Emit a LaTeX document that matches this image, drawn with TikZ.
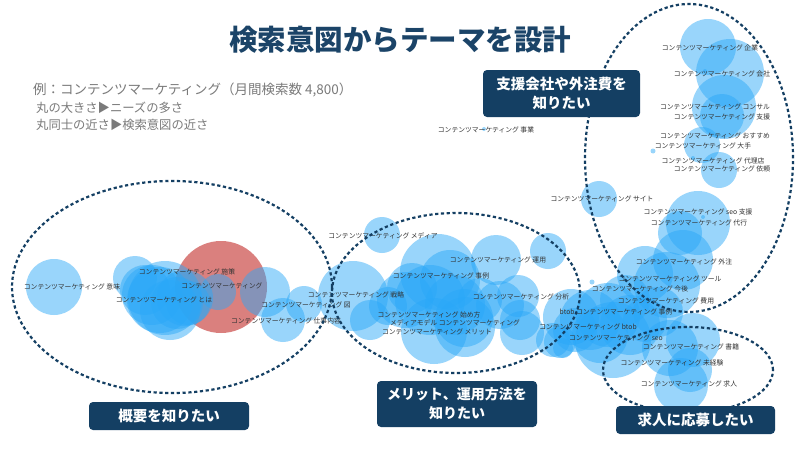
\documentclass[tikz,border=0pt]{standalone}
\usepackage{fontspec}
\newfontfamily\jp{Noto Sans CJK JP}
\definecolor{navy}{HTML}{143F63}
\definecolor{titleblue}{HTML}{1B4468}
\definecolor{bubblue}{HTML}{2AA8F8}
\definecolor{bubred}{HTML}{D46A68}
\definecolor{labgray}{HTML}{333333}
\definecolor{leggray}{HTML}{7A7A7A}
\tikzset{
  bub/.style={fill=bubblue, fill opacity=0.48},
  redbub/.style={fill=bubred, fill opacity=0.85},
  lab/.style={font=\jp\fontsize{6.8}{7}\selectfont, text=labgray, inner sep=0pt},
  grp/.style={draw=navy, line width=2.2pt, dash pattern=on 3.2pt off 2.6pt},
  catbox/.style={fill=navy, rounded corners=4pt, text=white, align=center, inner sep=0pt,
    font=\jp\bfseries\fontsize{14.5}{19}\selectfont},
  legend/.style={text=leggray, inner sep=0pt, anchor=west}
}
\begin{document}
\begin{tikzpicture}[x=1pt,y=-1pt]
\useasboundingbox[fill=white] (0,0) rectangle (800,450);

% title and legend
\node[font=\jp\bfseries\fontsize{28.5}{30}\selectfont, text=titleblue, inner sep=0pt] (title) at (400,40) {検索意図からテーマを設計};
\node[legend, font=\jp\fontsize{13.5}{15}\selectfont] (leg1) at (33,90) {例：コンテンツマーケティング（月間検索数 4,800）};
\node[legend, font=\jp\fontsize{12.3}{14}\selectfont] (leg2) at (36,108) {丸の大きさ▶ニーズの多さ};
\node[legend, font=\jp\fontsize{12.3}{14}\selectfont] (leg3) at (36,125) {丸同士の近さ▶検索意図の近さ};

% red main bubble
\fill[redbub] (221,287) circle[radius=46pt];

% left cluster
\foreach \x/\y/\r in {54/287/28, 135/278/22, 152/295/30, 165/298/37, 177/303/26, 188/303/22,
  160/300/33, 145/290/25, 170/310/30, 185/298/28,
  218/292/18, 265/292/25, 283/320/22, 304/304/18}
  \fill[bub] (\x,\y) circle[radius=\r pt];

% middle cluster
\foreach \x/\y/\r in {353/296/35, 370/320/20, 388/306/19, 382/235/18, 438/272/38, 450/280/30,
  412/288/25, 464/318/29, 434/331/33, 465/327/30, 496/260/25, 548/251/18, 518/296/21,
  500/305/24, 522/333/22, 553/340/17,
  430/300/35, 455/305/30, 405/300/28, 480/300/22, 520/320/20}
  \fill[bub] (\x,\y) circle[radius=\r pt];

% right cluster
\foreach \x/\y/\r in {599/199/18, 698/223/32, 680/233/22, 683/260/30, 645/274/28, 667/285/33,
  571/317/28, 608/315/32, 658/312/25, 613/340/38, 560/342/16, 563/348/10,
  590/320/30, 630/325/30, 600/335/28, 575/330/22, 645/320/22, 625/300/25,
  693/340/27, 670/348/28, 681/385/27, 690/370/22}
  \fill[bub] (\x,\y) circle[radius=\r pt];

% top right cluster
\foreach \x/\y/\r in {708/47/28, 730/73/34, 724/107/32, 722/116/22, 702/145/18, 719/170/18}
  \fill[bub] (\x,\y) circle[radius=\r pt];

% small dots
\foreach \x/\y/\r in {653/151/2.5, 705/71/2, 693/158/2, 484/129/2, 592/282/2.5, 703/217/2}
  \fill[bub] (\x,\y) circle[radius=\r pt];

% labels
\node[lab] (k1) at (72,287) {コンテンツマーケティング 意味};
\node[lab] (k2) at (187,272) {コンテンツマーケティング 施策};
\node[lab] (k3) at (222,286) {コンテンツマーケティング};
\node[lab] (k4) at (164,300) {コンテンツマーケティング とは};
\node[lab] (k5) at (306,305) {コンテンツマーケティング 図};
\node[lab] (k6) at (286,321) {コンテンツマーケティング 仕事内容};
\node[lab] (k7) at (383,236) {コンテンツマーケティング メディア};
\node[lab] (k8) at (498,260) {コンテンツマーケティング 運用};
\node[lab] (k9) at (441,276) {コンテンツマーケティング 事例};
\node[lab] (k10) at (356,295) {コンテンツマーケティング 戦略};
\node[lab] (k11) at (429,315) {コンテンツマーケティング 始め方};
\node[lab] (k12) at (455,323) {メディアモデル コンテンツマーケティング};
\node[lab] (k13) at (437,332) {コンテンツマーケティング メリット};
\node[lab] (k14) at (521,297) {コンテンツマーケティング 分析};
\node[lab] (k15) at (486,130) {コンテンツマーケティング 事業};
\node[lab] (k16) at (602,199) {コンテンツマーケティング サイト};
\node[lab] (k17) at (698,212) {コンテンツマーケティング seo 支援};
\node[lab] (k18) at (699,223) {コンテンツマーケティング 代行};
\node[lab] (k19) at (684,262) {コンテンツマーケティング 外注};
\node[lab] (k20) at (670,279) {コンテンツマーケティング ツール};
\node[lab] (k21) at (640,289) {コンテンツマーケティング 今後};
\node[lab] (k22) at (666,301) {コンテンツマーケティング 費用};
\node[lab] (k23) at (616,312) {btob コンテンツマーケティング 事例};
\node[lab] (k24) at (588,327) {コンテンツマーケティング btob};
\node[lab] (k25) at (616,338) {コンテンツマーケティング seo};
\node[lab] (k26) at (691,347) {コンテンツマーケティング 書籍};
\node[lab] (k27) at (672,363) {コンテンツマーケティング 未経験};
\node[lab] (k28) at (689,384) {コンテンツマーケティング 求人};
\node[lab] (k29) at (710,48) {コンテンツマーケティング 企業};
\node[lab] (k30) at (722,74) {コンテンツマーケティング 会社};
\node[lab] (k31) at (715,107) {コンテンツマーケティング コンサル};
\node[lab] (k32) at (722,117) {コンテンツマーケティング 支援};
\node[lab] (k33) at (715,136) {コンテンツマーケティング おすすめ};
\node[lab] (k34) at (703,146) {コンテンツマーケティング 大手};
\node[lab] (k35) at (713,161) {コンテンツマーケティング 代理店};
\node[lab] (k36) at (722,169) {コンテンツマーケティング 依頼};

% intent groups
\draw[grp] (172,287) ellipse[x radius=160pt, y radius=106pt];
\draw[grp] (456,293) ellipse[x radius=124pt, y radius=80pt];
\draw[grp] (689,158) ellipse[x radius=104pt, y radius=154pt];
\draw[grp] (688,370) ellipse[x radius=85pt, y radius=43pt];

% category boxes
\node[catbox, minimum width=157pt, minimum height=47pt] (b1) at (561.5,93.5) {支援会社や外注費を\\知りたい};
\node[catbox, minimum width=160pt, minimum height=28pt] (b2) at (169,416) {概要を知りたい};
\node[catbox, minimum width=160pt, minimum height=46pt, font=\jp\bfseries\fontsize{14}{19}\selectfont] (b3) at (457,404) {メリット、運用方法を\\知りたい};
\node[catbox, minimum width=159pt, minimum height=28pt] (b4) at (695.5,420) {求人に応募したい};
\end{tikzpicture}
\end{document}
